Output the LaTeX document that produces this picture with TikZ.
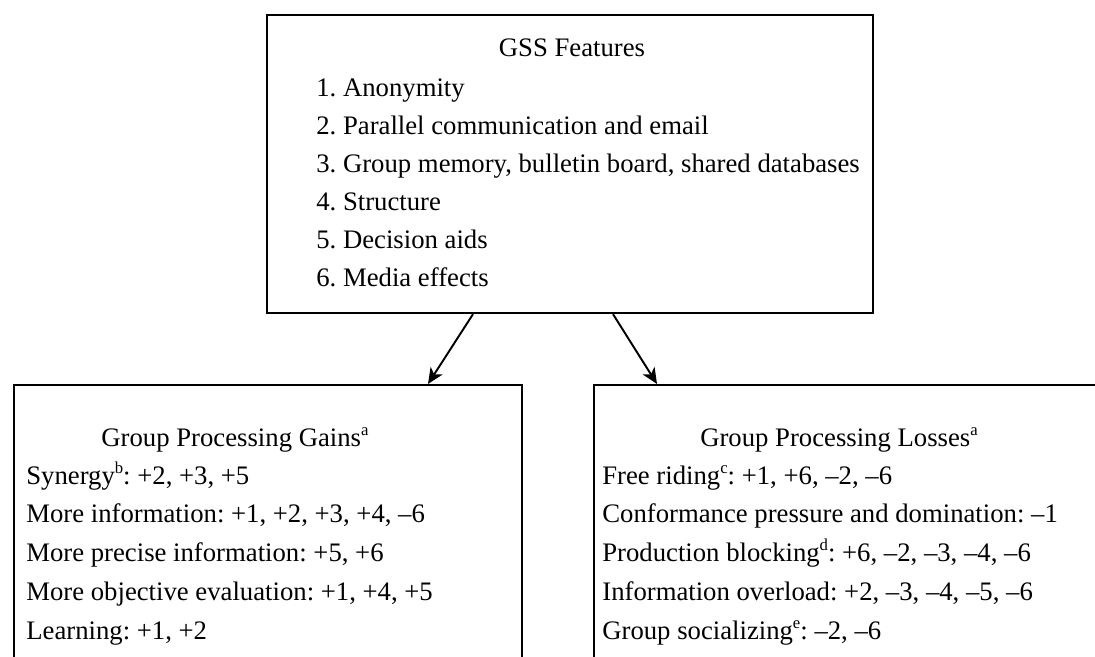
\documentclass[tikz,border=0pt]{standalone}
\usepackage{fontspec}
\setmainfont{Liberation Serif}
\usetikzlibrary{arrows.meta,positioning,calc}
\frenchspacing
\newcommand{\fnmark}[1]{\raisebox{0.95ex}{\fontsize{9.5}{10}\selectfont #1}}

\begin{document}
\begin{tikzpicture}[
  box/.style={draw=black, line width=1.3pt, inner sep=0pt},
  flow/.style={-{Stealth[length=9pt,width=8pt,inset=2.5pt]}, line width=1.1pt, draw=black},
  head/.style={font=\fontsize{15.2}{18}\selectfont, inner sep=0pt, anchor=base},
  item/.style={font=\fontsize{15.2}{18}\selectfont, inner sep=0pt, anchor=base west}
]

% canvas
\useasboundingbox (0,0) rectangle (21.9,13.14);
\clip (0,0) rectangle (21.9,13.14);

% GSS features
\node[box, minimum width=12.12cm, minimum height=5.96cm] (gss) at (11.40,9.86) {};
\node[head] (gsstitle) at (11.44,12.0) {GSS Features};
\node[item] (f1) at (6.32,11.20) {1. Anonymity};
\node[item] (f2) at (6.32,10.44) {2. Parallel communication and email};
\node[item] (f3) at (6.32,9.68) {3. Group memory, bulletin board, shared databases};
\node[item] (f4) at (6.32,8.92) {4. Structure};
\node[item] (f5) at (6.32,8.16) {5. Decision aids};
\node[item] (f6) at (6.32,7.40) {6. Media effects};

% Gains
\node[box, minimum width=10.16cm, minimum height=7cm, anchor=north west] (gains) at (0.26,5.46) {};
\node[head] (gaintitle) at (4.70,4.20) {Group Processing Gains\fnmark{a}};
\node[item] (g1) at (0.52,3.44) {Synergy\fnmark{b}: +2, +3, +5};
\node[item] (g2) at (0.52,2.68) {More information: +1, +2, +3, +4, \textendash6};
\node[item] (g3) at (0.52,1.90) {More precise information: +5, +6};
\node[item] (g4) at (0.52,1.12) {More objective evaluation: +1, +4, +5};
\node[item] (g5) at (0.52,0.34) {Learning: +1, +2};

% Losses
\node[box, minimum width=10.4cm, minimum height=7cm, anchor=north west] (losses) at (11.86,5.46) {};
\node[head] (losstitle) at (16.78,4.20) {Group Processing Losses\fnmark{a}};
\node[item] (l1) at (12.04,3.44) {Free riding\fnmark{c}: +1, +6, \textendash2, \textendash6};
\node[item] (l2) at (12.04,2.68) {Conformance pressure and domination: \textendash1};
\node[item] (l3) at (12.04,1.90) {Production blocking\fnmark{d}: +6, \textendash2, \textendash3, \textendash4, \textendash6};
\node[item] (l4) at (12.04,1.12) {Information overload: +2, \textendash3, \textendash4, \textendash5, \textendash6};
\node[item] (l5) at (12.04,0.34) {Group socializing\fnmark{e}: \textendash2, \textendash6};

% Arrows
\draw[flow] ($(gss.south)+(-1.94,0)$) -- ($(gains.north west)+(8.30,0)$);
\draw[flow] ($(gss.south)+(0.86,0)$) -- ($(losses.north west)+(1.28,0)$);

\end{tikzpicture}
\end{document}
